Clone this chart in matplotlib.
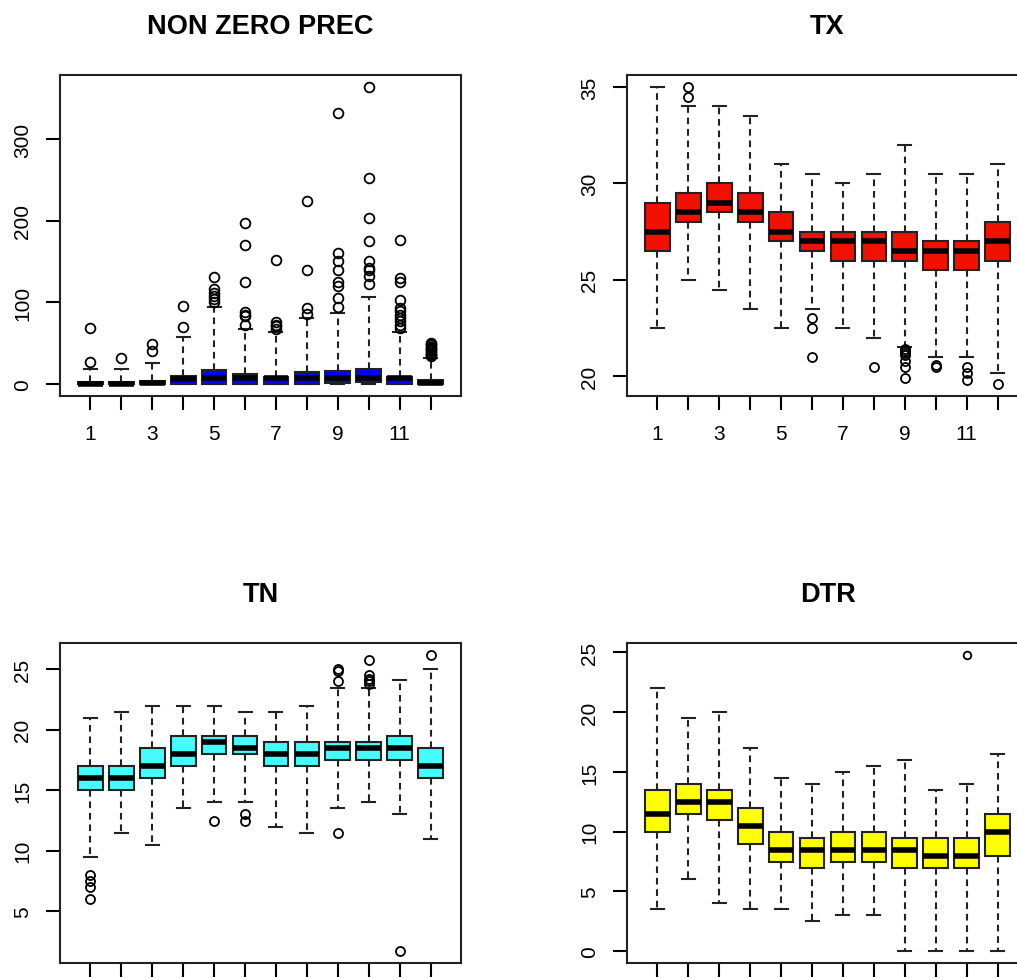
import matplotlib
matplotlib.use("Agg")
import matplotlib.pyplot as plt

plt.rcParams["font.family"] = ["Liberation Sans", "DejaVu Sans"]

months = list(range(1, 13))
month_labels = ["1", "", "3", "", "5", "", "7", "", "9", "", "11", ""]

# NON ZERO PREC
prec_whislo = [0, 0, 0, 0, 0, 0, 0, 0, 0, 0, 0, 0]
prec_q1 = [0, 0, 0, 0, 0, 0, 0, 0, 1, 2, 0, 0]
prec_med = [0, 0, 1, 6, 7.4, 8, 7, 7.4, 7, 8, 7, 1.6]
prec_q3 = [3, 3, 4, 10, 17, 12.3, 8.6, 14.3, 15.5, 19, 8.6, 5]
prec_whishi = [19, 19, 26, 58, 94, 67, 64, 81, 87, 106.7, 64.4, 32.4]
prec_fliers = [
    [27, 68.5],
    [32],
    [41, 49],
    [70, 96],
    [100, 104, 108, 112, 116, 131],
    [73, 83, 85, 88, 125.6, 170, 197],
    [67, 70.6, 73, 75.5, 152],
    [86, 93, 139.5, 224],
    [95, 106, 120, 124.7, 139.5, 150.6, 160, 331.6],
    [122.7, 133, 140, 142, 150.6, 175, 204, 253, 364],
    [69, 72.6, 77, 81, 85, 89, 93, 102.6, 124.7, 130, 177],
    [34, 35.5, 37, 38.5, 40, 41.5, 43, 44.5, 46, 47.5, 49, 50],
]

# TX
tx_whislo = [22.5, 25, 24.5, 23.5, 22.5, 23.5, 22.5, 22, 21.5, 21, 21, 20.2]
tx_q1 = [26.5, 28, 28.5, 28, 27, 26.5, 26, 26, 26, 25.5, 25.5, 26]
tx_med = [27.5, 28.5, 29, 28.5, 27.5, 27, 27, 27, 26.5, 26.5, 26.5, 27]
tx_q3 = [29, 29.5, 30, 29.5, 28.5, 27.5, 27.5, 27.5, 27.5, 27, 27, 28]
tx_whishi = [35, 34, 34, 33.5, 31, 30.5, 30, 30.5, 32, 30.5, 30.5, 31]
tx_fliers = [
    [], [34.5, 35], [], [], [], [21, 22.5, 23], [], [20.5],
    [19.9, 20.5, 20.8, 21.1, 21.2, 21.3, 21.4], [20.5, 20.6],
    [19.8, 20.2, 20.5], [19.6],
]

# TN
tn_whislo = [9.5, 11.5, 10.5, 13.5, 14, 14, 12, 11.5, 13.5, 14, 13, 11]
tn_q1 = [15, 15, 16, 17, 18, 18, 17, 17, 17.5, 17.5, 17.5, 16]
tn_med = [16, 16, 17, 18, 19, 18.5, 18, 18, 18.5, 18.5, 18.5, 17]
tn_q3 = [17, 17, 18.5, 19.5, 19.5, 19.5, 19, 19, 19, 19, 19.5, 18.5]
tn_whishi = [21, 21.5, 22, 22, 22, 21.5, 21.5, 22, 23.5, 23.5, 24.1, 25]
tn_fliers = [
    [6, 7, 7.5, 8], [], [], [], [12.5], [12.5, 13], [], [],
    [11.5, 24, 24.9, 25], [23.8, 24, 24.2, 24.5, 25.8], [1.7], [26.2],
]

# DTR
dtr_whislo = [3.5, 6, 4, 3.5, 3.5, 2.5, 3, 3, 0, 0, 0, 0]
dtr_q1 = [10, 11.5, 11, 9, 7.5, 7, 7.5, 7.5, 7, 7, 7, 8]
dtr_med = [11.5, 12.5, 12.5, 10.5, 8.5, 8.5, 8.5, 8.5, 8.5, 8, 8, 10]
dtr_q3 = [13.5, 14, 13.5, 12, 10, 9.5, 10, 10, 9.5, 9.5, 9.5, 11.5]
dtr_whishi = [22, 19.5, 20, 17, 14.5, 14, 15, 15.5, 16, 13.5, 14, 16.5]
dtr_fliers = [[], [], [], [], [], [], [], [], [], [], [24.8], []]


def make_stats(whislo, q1, med, q3, whishi, fliers):
    stats = []
    for i in range(len(med)):
        stats.append(dict(whislo=whislo[i], q1=q1[i], med=med[i], q3=q3[i],
                          whishi=whishi[i], fliers=fliers[i]))
    return stats


def r_boxplot(ax, stats, color, title, yticks, ms, xlabels=True):
    ax.bxp(stats, positions=months, widths=0.8, capwidths=0.42,
           patch_artist=True, manage_ticks=False,
           boxprops=dict(facecolor=color, edgecolor="#222222", linewidth=1.5),
           whiskerprops=dict(color="#222222", linewidth=1.5, linestyle=(0, (3.2, 2.3))),
           capprops=dict(color="#222222", linewidth=1.5),
           medianprops=dict(color="black", linewidth=4, solid_capstyle="butt"),
           flierprops=dict(marker="o", markerfacecolor="none",
                           markeredgecolor="black", markersize=ms, markeredgewidth=1.3))
    # R style axis extents: 4% padding
    vals = []
    for s in stats:
        vals += [s["whislo"], s["whishi"]] + list(s["fliers"])
    lo, hi = min(vals), max(vals)
    pad = 0.04 * (hi - lo)
    ax.set_ylim(lo - pad, hi + pad)
    ax.set_xlim(0.02, 12.98)
    ax.set_xticks(months)
    # bottom row labels fall below the visible area in the original
    ax.set_xticklabels(month_labels if xlabels else [""] * 12)
    ax.set_yticks(yticks)
    ax.set_yticklabels([str(t) for t in yticks], rotation=90, va="center")
    ax.tick_params(direction="out", length=10, width=1.5, labelsize=15, pad=10,
                   top=False, right=False)
    for sp in ax.spines.values():
        sp.set_linewidth(1.5)
        sp.set_color("#222222")
    ax.set_title(title, fontsize=19.5, fontweight="bold", pad=30)


W, H = 1017, 979
fig = plt.figure(figsize=(W / 100, H / 100), dpi=100)


def add_ax(left, top, right, bottom):
    return fig.add_axes([left / W, 1 - bottom / H, (right - left) / W, (bottom - top) / H])


ax1 = add_ax(60, 76, 461, 397)
ax2 = add_ax(627, 76, 1028, 397)
ax3 = add_ax(60, 644, 461, 964)
ax4 = add_ax(627, 644, 1028, 964)

r_boxplot(ax1, make_stats(prec_whislo, prec_q1, prec_med, prec_q3, prec_whishi, prec_fliers),
          "#0000FF", "NON ZERO PREC", [0, 100, 200, 300], 7)
r_boxplot(ax2, make_stats(tx_whislo, tx_q1, tx_med, tx_q3, tx_whishi, tx_fliers),
          "#F21000", "TX", [20, 25, 30, 35], 6.5)
r_boxplot(ax3, make_stats(tn_whislo, tn_q1, tn_med, tn_q3, tn_whishi, tn_fliers),
          "#44FCFC", "TN", [5, 10, 15, 20, 25], 6.5, xlabels=False)
r_boxplot(ax4, make_stats(dtr_whislo, dtr_q1, dtr_med, dtr_q3, dtr_whishi, dtr_fliers),
          "#FFFF00", "DTR", [0, 5, 10, 15, 20, 25], 5.5, xlabels=False)

fig.savefig("out.png", dpi=100)
